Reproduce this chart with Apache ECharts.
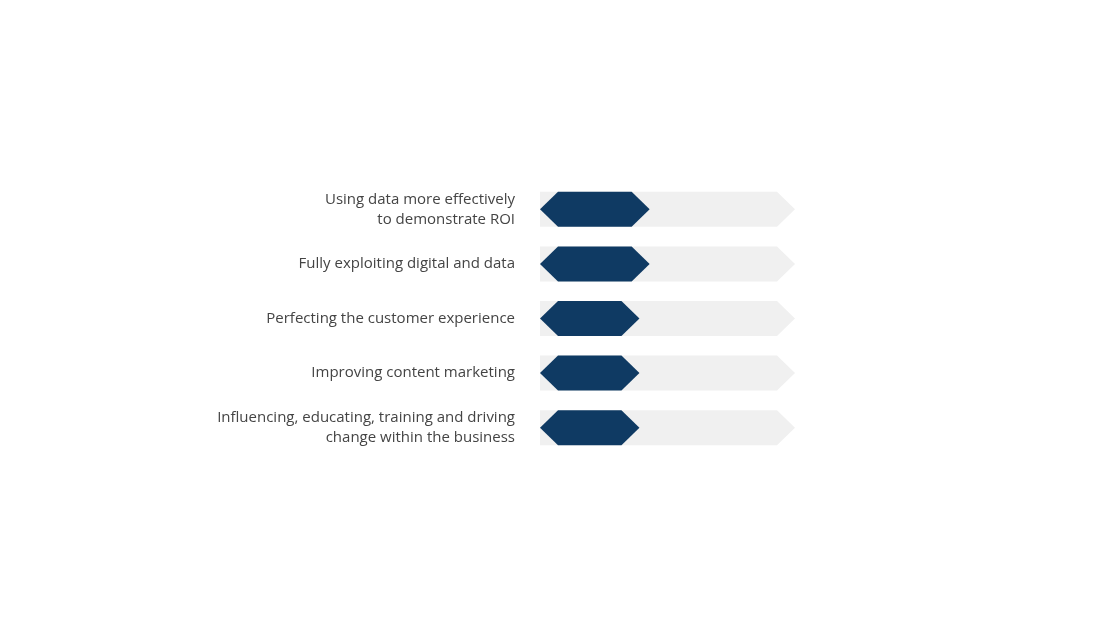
<!DOCTYPE html>
<html><head><meta charset="utf-8">
<script src="https://cdn.jsdelivr.net/npm/echarts@6/dist/echarts.min.js"></script>
<style>html,body{margin:0;background:#fff}#c{width:1100px;height:628px}</style>
</head><body><div id="c"></div>
<script>
var categories = [
  'Using data more effectively\nto demonstrate ROI',
  'Fully exploiting digital and data',
  'Perfecting the customer experience',
  'Improving content marketing',
  'Influencing, educating, training and driving\nchange within the business'
];
var values = [43, 43, 39, 39, 39];
var fullScale = 100;

var chart = echarts.init(document.getElementById('c'));

function hexShape(x0, x1, yc, h, tip, leftPoint) {
  var pts = [];
  if (leftPoint) {
    pts.push([x0, yc], [x0 + tip, yc - h / 2]);
  } else {
    pts.push([x0, yc - h / 2]);
  }
  pts.push([x1 - tip, yc - h / 2], [x1, yc], [x1 - tip, yc + h / 2]);
  if (leftPoint) pts.push([x0 + tip, yc + h / 2]);
  else pts.push([x0, yc + h / 2]);
  return pts;
}

function renderBar(isBg) {
  return function (params, api) {
    var idx = params.dataIndex;
    var start = api.coord([0, idx]);
    var end = api.coord([isBg ? fullScale : api.value(0), idx]);
    var h = 35;
    return {
      type: 'polygon',
      shape: { points: hexShape(start[0], end[0], start[1], h, 18, !isBg) },
      style: { fill: isBg ? '#f0f0f0' : '#0f3a63' }
    };
  };
}

chart.setOption({
  animation: false,
  grid: { left: 540, width: 255, top: 182, height: 273 },
  xAxis: { type: 'value', min: 0, max: 100, show: false },
  yAxis: {
    type: 'category', data: categories, inverse: true,
    axisLine: { show: false }, axisTick: { show: false },
    axisLabel: { color: '#444', fontSize: 15, lineHeight: 20, margin: 25, fontFamily: 'Open Sans' }
  },
  series: [
    {
      type: 'custom', renderItem: renderBar(true),
      data: values.map(function (v) { return [v]; }),
      encode: { x: 0 },
      label: {
        show: true, position: 'right', distance: 13,
        formatter: function (p) { return values[p.dataIndex] + '%'; },
        color: '#444', fontSize: 15, fontFamily: 'Open Sans'
      }
    },
    {
      type: 'custom', renderItem: renderBar(false),
      data: values.map(function (v) { return [v]; }),
      encode: { x: 0 }
    }
  ]
});
</script></body></html>
